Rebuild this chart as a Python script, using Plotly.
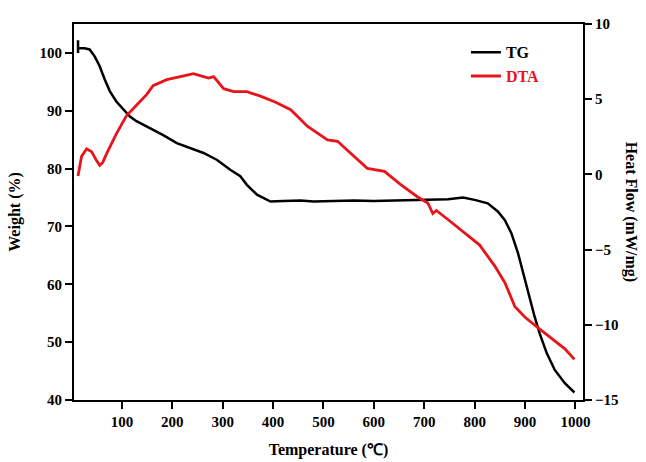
import plotly.graph_objects as go

tg_temp = [13, 13, 13, 26, 36, 46, 56, 66, 76, 89, 103, 116, 129, 156, 182, 209, 235, 262, 289, 315, 335, 348, 368, 395, 420, 455, 480, 520, 560, 600, 650, 700, 747, 777, 800, 826, 846, 860, 873, 886, 893, 906, 919, 929, 943, 959, 979, 998]
tg_weight = [102.2, 100.0, 100.8, 100.8, 100.6, 99.4, 97.7, 95.4, 93.4, 91.6, 90.2, 89.0, 88.2, 87.0, 85.8, 84.4, 83.5, 82.7, 81.5, 79.8, 78.7, 77.2, 75.5, 74.3, 74.4, 74.5, 74.3, 74.4, 74.5, 74.4, 74.5, 74.5, 74.7, 75.0, 74.6, 74.0, 72.6, 71.1, 68.8, 65.4, 63.1, 58.5, 54.4, 51.5, 48.1, 45.2, 42.9, 41.3]

dta_temp = [13, 16, 20, 30, 40, 50, 56, 62, 70, 89, 109, 129, 149, 162, 189, 216, 242, 262, 272, 282, 292, 302, 322, 348, 375, 405, 435, 468, 508, 528, 554, 587, 621, 654, 687, 707, 717, 724, 747, 780, 810, 840, 860, 880, 900, 926, 953, 979, 998]
dta_flow = [-0.1, 0.6, 1.2, 1.7, 1.5, 0.9, 0.6, 0.8, 1.4, 2.7, 3.9, 4.6, 5.3, 5.9, 6.3, 6.5, 6.7, 6.5, 6.4, 6.5, 6.1, 5.7, 5.5, 5.5, 5.2, 4.8, 4.3, 3.2, 2.3, 2.2, 1.4, 0.4, 0.2, -0.7, -1.5, -1.9, -2.6, -2.4, -3.0, -3.9, -4.7, -6.1, -7.2, -8.8, -9.5, -10.2, -10.9, -11.6, -12.3]

x_ticks = [100, 200, 300, 400, 500, 600, 700, 800, 900, 1000]
y_ticks = [40, 50, 60, 70, 80, 90, 100]
y2_ticks = [-15, -10, -5, 0, 5, 10]

FONT = "Liberation Serif"

fig = go.Figure()
fig.add_trace(go.Scatter(x=tg_temp, y=tg_weight, mode="lines", name="TG",
                         line=dict(color="black", width=2.5)))
fig.add_trace(go.Scatter(x=dta_temp, y=dta_flow, mode="lines", name="<span style='color:#e8141b'>DTA</span>",
                         line=dict(color="#e8141b", width=2.8), yaxis="y2"))

fig.update_layout(width=646, height=462, margin=dict(l=74, r=63, t=24, b=62),
                  plot_bgcolor="white", paper_bgcolor="white",
                  yaxis2=dict(overlaying="y", side="right"))

fig.update_xaxes(showline=True, linewidth=2, linecolor="black", mirror=True,
                 ticks="outside", ticklen=7, tickwidth=2, tickcolor="black",
                 tickfont=dict(family=FONT, size=15, weight="bold"),
                 range=[5, 1015], tickvals=x_ticks, showgrid=False, zeroline=False,
                 automargin=False,
                 title_text="Temperature (℃)",
                 title_font=dict(family=FONT, size=16, color="black", weight="bold"))
fig.update_yaxes(showline=True, linewidth=2, linecolor="black",
                 ticks="outside", ticklen=7, tickwidth=2, tickcolor="black",
                 tickfont=dict(family=FONT, size=15, weight="bold"),
                 showgrid=False, zeroline=False, automargin=False)
fig.update_layout(
    yaxis=dict(range=[40, 105], tickvals=y_ticks, title_text="Weight (%)",
               title_font=dict(family=FONT, size=16, color="black", weight="bold")),
    yaxis2=dict(range=[-15, 10], tickvals=y2_ticks),
    font=dict(color="black"),
    legend=dict(x=0.77, y=0.97, xanchor="left", yanchor="top", bgcolor="rgba(0,0,0,0)",
                font=dict(family=FONT, size=16, color="black", weight="bold")),
    annotations=[dict(text="Heat Flow (mW/mg)", xref="paper", yref="paper", x=1.095, y=0.5,
                      textangle=90, showarrow=False, xanchor="center", yanchor="middle",
                      font=dict(family=FONT, size=16, color="black", weight="bold"))],
)

fig.write_html("out.html")
